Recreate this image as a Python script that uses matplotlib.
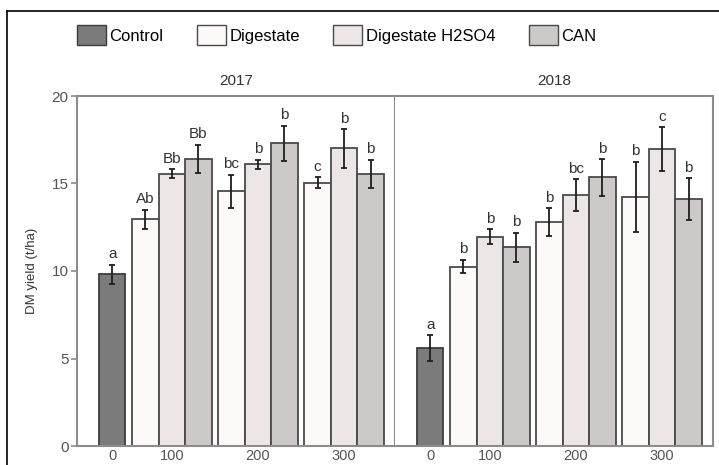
import matplotlib.pyplot as plt
from matplotlib.patches import Patch
from matplotlib.lines import Line2D

plt.rcParams['font.family'] = ['Liberation Sans', 'DejaVu Sans']

years = ['2017', '2018']
rates = ['0', '100', '200', '300']
treatments = ['Digestate', 'Digestate H2SO4', 'CAN']

control_mean = [9.8, 5.6]
control_err = [0.55, 0.72]
control_letter = ['a', 'a']

# rates 100, 200, 300
dig_2017 = [12.95, 14.55, 15.05]
dig_2017_err = [0.55, 0.95, 0.3]
h2so4_2017 = [15.55, 16.1, 17.0]
h2so4_2017_err = [0.25, 0.25, 1.1]
can_2017 = [16.4, 17.3, 15.55]
can_2017_err = [0.8, 1.0, 0.8]

dig_2018 = [10.25, 12.8, 14.25]
dig_2018_err = [0.38, 0.8, 2.0]
h2so4_2018 = [11.95, 14.35, 16.95]
h2so4_2018_err = [0.43, 0.9, 1.25]
can_2018 = [11.35, 15.35, 14.1]
can_2018_err = [0.83, 1.05, 1.2]

letters_2017 = [['Ab', 'bc', 'c'], ['Bb', 'b', 'b'], ['Bb', 'b', 'b']]
letters_2018 = [['b', 'b', 'b'], ['b', 'bc', 'c'], ['b', 'b', 'b']]

means = {'2017': [dig_2017, h2so4_2017, can_2017],
         '2018': [dig_2018, h2so4_2018, can_2018]}
errs = {'2017': [dig_2017_err, h2so4_2017_err, can_2017_err],
        '2018': [dig_2018_err, h2so4_2018_err, can_2018_err]}
letters = {'2017': letters_2017, '2018': letters_2018}

control_color = '#7b7b7b'
colors = ['#fdf9f9', '#ede6e6', '#cdc9c9']
edge = '#4a4a4a'
spine_col = '#8c8c8c'

fig = plt.figure(figsize=(7.19, 4.65), dpi=100)

# outer frame (only left and top visible in the crop)
fig.add_artist(Line2D([7 / 719, 7 / 719], [0, 1 - 11 / 465], color='black', lw=1.2))
fig.add_artist(Line2D([7 / 719, 1], [1 - 11 / 465, 1 - 11 / 465], color='black', lw=1.2))

w = 1.0
gap = 0.25
c0 = 1.33
group_centers = [c0 + w / 2 + gap + 1.5 * w + i * (3 * w + gap) for i in range(3)]

bottom = 1 - 446 / 465
height = 350 / 465
for k, yr in enumerate(years):
    ax = fig.add_axes([(77 + k * 318) / 719, bottom, 318 / 719, height])
    ax.bar(c0, control_mean[k], w, color=control_color, edgecolor='#3c3c3c', lw=1.3, zorder=2)
    ax.errorbar(c0, control_mean[k], yerr=control_err[k], fmt='none', ecolor='#1e1e1e',
                elinewidth=1.3, capsize=2.5, capthick=1.3, zorder=3)
    ax.text(c0, control_mean[k] + control_err[k] + 0.2, control_letter[k], ha='center',
            va='bottom', fontsize=11, color='#333333')
    for t in range(3):
        xs = [gc + (t - 1) * w for gc in group_centers]
        ax.bar(xs, means[yr][t], w, color=colors[t], edgecolor=edge, lw=1.3, zorder=2)
        ax.errorbar(xs, means[yr][t], yerr=errs[yr][t], fmt='none', ecolor='#1e1e1e',
                    elinewidth=1.3, capsize=2.5, capthick=1.3, zorder=3)
        for x, m, e, l in zip(xs, means[yr][t], errs[yr][t], letters[yr][t]):
            ax.text(x, m + e + 0.2, l, ha='center', va='bottom', fontsize=11, color='#333333')
    ax.set_xlim(0, 12)
    ax.set_ylim(0, 20)
    ax.set_xticks([c0] + group_centers)
    ax.set_xticklabels(rates)
    ax.tick_params(axis='x', length=0, pad=2, labelsize=10.5, labelcolor='#555555')
    for s in ax.spines.values():
        s.set_color(spine_col)
        s.set_linewidth(1.5)
    ax.set_title(yr, fontsize=11, color='#333333', pad=8)
    if k == 0:
        ax.set_yticks([0, 5, 10, 15, 20])
        ax.tick_params(axis='y', length=4, width=1.2, color=spine_col, labelsize=11,
                       labelcolor='#555555', pad=2)
        ax.set_ylabel('DM yield (t/ha)', fontsize=9.5, color='#333333', labelpad=10)
    else:
        ax.set_yticks([])
        ax.spines['left'].set_visible(False)

handles = [Patch(facecolor=control_color, edgecolor='#3c3c3c', label='Control')]
handles += [Patch(facecolor=c, edgecolor=edge, label=t) for c, t in zip(colors, treatments)]
fig.legend(handles=handles, loc='center left', bbox_to_anchor=(77 / 719, 1 - 35 / 465),
           ncol=4, frameon=False, fontsize=12, handlelength=1.75, handleheight=1.4,
           handletextpad=0.2, columnspacing=2.0, borderpad=0, borderaxespad=0)

fig.savefig('out.png', dpi=100)
